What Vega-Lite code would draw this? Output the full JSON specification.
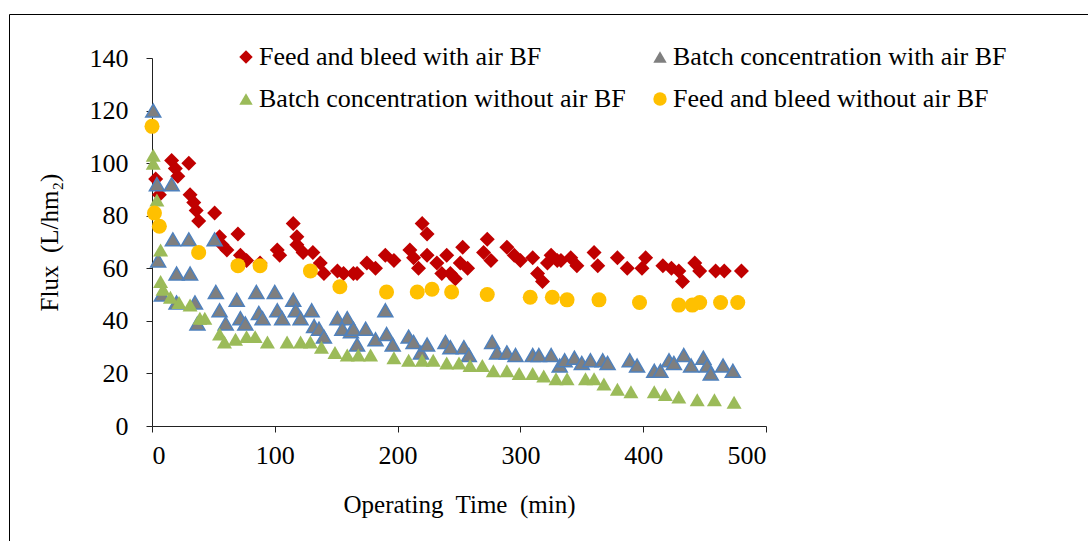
{
  "$schema": "https://vega.github.io/schema/vega-lite/v6.json",
  "autosize": {"type": "none"},
  "padding": {"left": 9, "top": 14, "right": 0, "bottom": 0},
  "width": 1090,
  "height": 540,
  "background": "#ffffff",
  "config": {
    "view": {"stroke": "#000000", "strokeWidth": 1},
    "font": "Liberation Serif",
    "axis": {
      "grid": false,
      "domainColor": "#222222",
      "tickColor": "#222222",
      "tickSize": 6,
      "labelFont": "Liberation Serif",
      "labelFontSize": 26,
      "labelColor": "#000000",
      "titleFont": "Liberation Serif",
      "titleFontSize": 25,
      "titleFontWeight": "normal",
      "titleColor": "#000000"
    }
  },
  "data": {
    "values": [
      {"t": 3, "flux": 94, "series": "Feed and bleed with air BF"},
      {"t": 6, "flux": 88, "series": "Feed and bleed with air BF"},
      {"t": 16, "flux": 101, "series": "Feed and bleed with air BF"},
      {"t": 19, "flux": 98, "series": "Feed and bleed with air BF"},
      {"t": 21, "flux": 95, "series": "Feed and bleed with air BF"},
      {"t": 30, "flux": 100, "series": "Feed and bleed with air BF"},
      {"t": 31, "flux": 88, "series": "Feed and bleed with air BF"},
      {"t": 34, "flux": 85, "series": "Feed and bleed with air BF"},
      {"t": 36, "flux": 82, "series": "Feed and bleed with air BF"},
      {"t": 38, "flux": 78, "series": "Feed and bleed with air BF"},
      {"t": 51, "flux": 81, "series": "Feed and bleed with air BF"},
      {"t": 55, "flux": 72, "series": "Feed and bleed with air BF"},
      {"t": 57, "flux": 69, "series": "Feed and bleed with air BF"},
      {"t": 61, "flux": 67, "series": "Feed and bleed with air BF"},
      {"t": 70, "flux": 73, "series": "Feed and bleed with air BF"},
      {"t": 72, "flux": 65, "series": "Feed and bleed with air BF"},
      {"t": 77, "flux": 63, "series": "Feed and bleed with air BF"},
      {"t": 88, "flux": 62, "series": "Feed and bleed with air BF"},
      {"t": 102, "flux": 67, "series": "Feed and bleed with air BF"},
      {"t": 104, "flux": 65, "series": "Feed and bleed with air BF"},
      {"t": 115, "flux": 77, "series": "Feed and bleed with air BF"},
      {"t": 118, "flux": 72, "series": "Feed and bleed with air BF"},
      {"t": 118, "flux": 69, "series": "Feed and bleed with air BF"},
      {"t": 123, "flux": 66, "series": "Feed and bleed with air BF"},
      {"t": 131, "flux": 66, "series": "Feed and bleed with air BF"},
      {"t": 137, "flux": 62, "series": "Feed and bleed with air BF"},
      {"t": 140, "flux": 58, "series": "Feed and bleed with air BF"},
      {"t": 151, "flux": 59, "series": "Feed and bleed with air BF"},
      {"t": 156, "flux": 58, "series": "Feed and bleed with air BF"},
      {"t": 164, "flux": 58, "series": "Feed and bleed with air BF"},
      {"t": 167, "flux": 58, "series": "Feed and bleed with air BF"},
      {"t": 175, "flux": 62, "series": "Feed and bleed with air BF"},
      {"t": 182, "flux": 60, "series": "Feed and bleed with air BF"},
      {"t": 190, "flux": 65, "series": "Feed and bleed with air BF"},
      {"t": 197, "flux": 63, "series": "Feed and bleed with air BF"},
      {"t": 210, "flux": 67, "series": "Feed and bleed with air BF"},
      {"t": 213, "flux": 64, "series": "Feed and bleed with air BF"},
      {"t": 217, "flux": 60, "series": "Feed and bleed with air BF"},
      {"t": 220, "flux": 77, "series": "Feed and bleed with air BF"},
      {"t": 224, "flux": 73, "series": "Feed and bleed with air BF"},
      {"t": 224, "flux": 65, "series": "Feed and bleed with air BF"},
      {"t": 232, "flux": 62, "series": "Feed and bleed with air BF"},
      {"t": 236, "flux": 58, "series": "Feed and bleed with air BF"},
      {"t": 240, "flux": 65, "series": "Feed and bleed with air BF"},
      {"t": 243, "flux": 58, "series": "Feed and bleed with air BF"},
      {"t": 247, "flux": 56, "series": "Feed and bleed with air BF"},
      {"t": 251, "flux": 62, "series": "Feed and bleed with air BF"},
      {"t": 253, "flux": 68, "series": "Feed and bleed with air BF"},
      {"t": 257, "flux": 60, "series": "Feed and bleed with air BF"},
      {"t": 270, "flux": 66, "series": "Feed and bleed with air BF"},
      {"t": 273, "flux": 71, "series": "Feed and bleed with air BF"},
      {"t": 276, "flux": 63, "series": "Feed and bleed with air BF"},
      {"t": 289, "flux": 68, "series": "Feed and bleed with air BF"},
      {"t": 295, "flux": 65, "series": "Feed and bleed with air BF"},
      {"t": 300, "flux": 63, "series": "Feed and bleed with air BF"},
      {"t": 310, "flux": 64, "series": "Feed and bleed with air BF"},
      {"t": 314, "flux": 58, "series": "Feed and bleed with air BF"},
      {"t": 318, "flux": 55, "series": "Feed and bleed with air BF"},
      {"t": 322, "flux": 62, "series": "Feed and bleed with air BF"},
      {"t": 325, "flux": 65, "series": "Feed and bleed with air BF"},
      {"t": 330, "flux": 63, "series": "Feed and bleed with air BF"},
      {"t": 333, "flux": 63, "series": "Feed and bleed with air BF"},
      {"t": 341, "flux": 64, "series": "Feed and bleed with air BF"},
      {"t": 346, "flux": 61, "series": "Feed and bleed with air BF"},
      {"t": 360, "flux": 66, "series": "Feed and bleed with air BF"},
      {"t": 363, "flux": 61, "series": "Feed and bleed with air BF"},
      {"t": 379, "flux": 64, "series": "Feed and bleed with air BF"},
      {"t": 387, "flux": 60, "series": "Feed and bleed with air BF"},
      {"t": 399, "flux": 60, "series": "Feed and bleed with air BF"},
      {"t": 402, "flux": 64, "series": "Feed and bleed with air BF"},
      {"t": 416, "flux": 61, "series": "Feed and bleed with air BF"},
      {"t": 423, "flux": 60, "series": "Feed and bleed with air BF"},
      {"t": 429, "flux": 59, "series": "Feed and bleed with air BF"},
      {"t": 432, "flux": 55, "series": "Feed and bleed with air BF"},
      {"t": 442, "flux": 62, "series": "Feed and bleed with air BF"},
      {"t": 446, "flux": 59, "series": "Feed and bleed with air BF"},
      {"t": 459, "flux": 59, "series": "Feed and bleed with air BF"},
      {"t": 466, "flux": 59, "series": "Feed and bleed with air BF"},
      {"t": 480, "flux": 59, "series": "Feed and bleed with air BF"},

      {"t": 1, "flux": 120, "series": "Batch concentration with air BF"},
      {"t": 4, "flux": 92, "series": "Batch concentration with air BF"},
      {"t": 16, "flux": 92, "series": "Batch concentration with air BF"},
      {"t": 5, "flux": 63, "series": "Batch concentration with air BF"},
      {"t": 8, "flux": 50, "series": "Batch concentration with air BF"},
      {"t": 17, "flux": 71, "series": "Batch concentration with air BF"},
      {"t": 30, "flux": 71, "series": "Batch concentration with air BF"},
      {"t": 51, "flux": 71, "series": "Batch concentration with air BF"},
      {"t": 20, "flux": 58, "series": "Batch concentration with air BF"},
      {"t": 31, "flux": 58, "series": "Batch concentration with air BF"},
      {"t": 20, "flux": 47, "series": "Batch concentration with air BF"},
      {"t": 35, "flux": 47, "series": "Batch concentration with air BF"},
      {"t": 37, "flux": 39, "series": "Batch concentration with air BF"},
      {"t": 52, "flux": 51, "series": "Batch concentration with air BF"},
      {"t": 55, "flux": 44, "series": "Batch concentration with air BF"},
      {"t": 60, "flux": 39, "series": "Batch concentration with air BF"},
      {"t": 69, "flux": 48, "series": "Batch concentration with air BF"},
      {"t": 72, "flux": 41, "series": "Batch concentration with air BF"},
      {"t": 76, "flux": 39, "series": "Batch concentration with air BF"},
      {"t": 85, "flux": 51, "series": "Batch concentration with air BF"},
      {"t": 87, "flux": 43, "series": "Batch concentration with air BF"},
      {"t": 90, "flux": 41, "series": "Batch concentration with air BF"},
      {"t": 100, "flux": 51, "series": "Batch concentration with air BF"},
      {"t": 102, "flux": 44, "series": "Batch concentration with air BF"},
      {"t": 106, "flux": 41, "series": "Batch concentration with air BF"},
      {"t": 115, "flux": 48, "series": "Batch concentration with air BF"},
      {"t": 117, "flux": 44, "series": "Batch concentration with air BF"},
      {"t": 121, "flux": 41, "series": "Batch concentration with air BF"},
      {"t": 130, "flux": 44, "series": "Batch concentration with air BF"},
      {"t": 132, "flux": 38, "series": "Batch concentration with air BF"},
      {"t": 136, "flux": 37, "series": "Batch concentration with air BF"},
      {"t": 140, "flux": 34, "series": "Batch concentration with air BF"},
      {"t": 151, "flux": 41, "series": "Batch concentration with air BF"},
      {"t": 159, "flux": 41, "series": "Batch concentration with air BF"},
      {"t": 155, "flux": 37, "series": "Batch concentration with air BF"},
      {"t": 162, "flux": 36, "series": "Batch concentration with air BF"},
      {"t": 164, "flux": 37, "series": "Batch concentration with air BF"},
      {"t": 167, "flux": 31, "series": "Batch concentration with air BF"},
      {"t": 174, "flux": 37, "series": "Batch concentration with air BF"},
      {"t": 182, "flux": 33, "series": "Batch concentration with air BF"},
      {"t": 190, "flux": 44, "series": "Batch concentration with air BF"},
      {"t": 191, "flux": 35, "series": "Batch concentration with air BF"},
      {"t": 196, "flux": 31, "series": "Batch concentration with air BF"},
      {"t": 209, "flux": 34, "series": "Batch concentration with air BF"},
      {"t": 213, "flux": 32, "series": "Batch concentration with air BF"},
      {"t": 219, "flux": 28, "series": "Batch concentration with air BF"},
      {"t": 224, "flux": 31, "series": "Batch concentration with air BF"},
      {"t": 239, "flux": 32, "series": "Batch concentration with air BF"},
      {"t": 243, "flux": 30, "series": "Batch concentration with air BF"},
      {"t": 254, "flux": 30, "series": "Batch concentration with air BF"},
      {"t": 258, "flux": 27, "series": "Batch concentration with air BF"},
      {"t": 277, "flux": 32, "series": "Batch concentration with air BF"},
      {"t": 281, "flux": 28, "series": "Batch concentration with air BF"},
      {"t": 289, "flux": 28, "series": "Batch concentration with air BF"},
      {"t": 296, "flux": 27, "series": "Batch concentration with air BF"},
      {"t": 310, "flux": 27, "series": "Batch concentration with air BF"},
      {"t": 315, "flux": 27, "series": "Batch concentration with air BF"},
      {"t": 325, "flux": 27, "series": "Batch concentration with air BF"},
      {"t": 332, "flux": 23, "series": "Batch concentration with air BF"},
      {"t": 336, "flux": 25, "series": "Batch concentration with air BF"},
      {"t": 344, "flux": 26, "series": "Batch concentration with air BF"},
      {"t": 350, "flux": 24, "series": "Batch concentration with air BF"},
      {"t": 357, "flux": 25, "series": "Batch concentration with air BF"},
      {"t": 367, "flux": 25, "series": "Batch concentration with air BF"},
      {"t": 371, "flux": 24, "series": "Batch concentration with air BF"},
      {"t": 389, "flux": 25, "series": "Batch concentration with air BF"},
      {"t": 395, "flux": 23, "series": "Batch concentration with air BF"},
      {"t": 409, "flux": 21, "series": "Batch concentration with air BF"},
      {"t": 414, "flux": 21, "series": "Batch concentration with air BF"},
      {"t": 421, "flux": 25, "series": "Batch concentration with air BF"},
      {"t": 425, "flux": 24, "series": "Batch concentration with air BF"},
      {"t": 433, "flux": 27, "series": "Batch concentration with air BF"},
      {"t": 439, "flux": 23, "series": "Batch concentration with air BF"},
      {"t": 449, "flux": 26, "series": "Batch concentration with air BF"},
      {"t": 452, "flux": 23, "series": "Batch concentration with air BF"},
      {"t": 455, "flux": 20, "series": "Batch concentration with air BF"},
      {"t": 465, "flux": 23, "series": "Batch concentration with air BF"},
      {"t": 473, "flux": 21, "series": "Batch concentration with air BF"},

      {"t": 1, "flux": 103, "series": "Batch concentration without air BF"},
      {"t": 1, "flux": 100, "series": "Batch concentration without air BF"},
      {"t": 4, "flux": 86, "series": "Batch concentration without air BF"},
      {"t": 7, "flux": 67, "series": "Batch concentration without air BF"},
      {"t": 7, "flux": 55, "series": "Batch concentration without air BF"},
      {"t": 9, "flux": 52, "series": "Batch concentration without air BF"},
      {"t": 15, "flux": 49, "series": "Batch concentration without air BF"},
      {"t": 22, "flux": 47, "series": "Batch concentration without air BF"},
      {"t": 31, "flux": 46, "series": "Batch concentration without air BF"},
      {"t": 39, "flux": 41, "series": "Batch concentration without air BF"},
      {"t": 43, "flux": 41, "series": "Batch concentration without air BF"},
      {"t": 55, "flux": 35, "series": "Batch concentration without air BF"},
      {"t": 59, "flux": 32, "series": "Batch concentration without air BF"},
      {"t": 68, "flux": 33, "series": "Batch concentration without air BF"},
      {"t": 77, "flux": 34, "series": "Batch concentration without air BF"},
      {"t": 84, "flux": 34, "series": "Batch concentration without air BF"},
      {"t": 94, "flux": 32, "series": "Batch concentration without air BF"},
      {"t": 110, "flux": 32, "series": "Batch concentration without air BF"},
      {"t": 121, "flux": 32, "series": "Batch concentration without air BF"},
      {"t": 129, "flux": 32, "series": "Batch concentration without air BF"},
      {"t": 138, "flux": 30, "series": "Batch concentration without air BF"},
      {"t": 149, "flux": 28, "series": "Batch concentration without air BF"},
      {"t": 159, "flux": 27, "series": "Batch concentration without air BF"},
      {"t": 168, "flux": 27, "series": "Batch concentration without air BF"},
      {"t": 178, "flux": 27, "series": "Batch concentration without air BF"},
      {"t": 197, "flux": 26, "series": "Batch concentration without air BF"},
      {"t": 209, "flux": 25, "series": "Batch concentration without air BF"},
      {"t": 220, "flux": 25, "series": "Batch concentration without air BF"},
      {"t": 229, "flux": 25, "series": "Batch concentration without air BF"},
      {"t": 240, "flux": 24, "series": "Batch concentration without air BF"},
      {"t": 250, "flux": 24, "series": "Batch concentration without air BF"},
      {"t": 259, "flux": 23, "series": "Batch concentration without air BF"},
      {"t": 269, "flux": 23, "series": "Batch concentration without air BF"},
      {"t": 278, "flux": 21, "series": "Batch concentration without air BF"},
      {"t": 289, "flux": 21, "series": "Batch concentration without air BF"},
      {"t": 299, "flux": 20, "series": "Batch concentration without air BF"},
      {"t": 310, "flux": 20, "series": "Batch concentration without air BF"},
      {"t": 319, "flux": 19, "series": "Batch concentration without air BF"},
      {"t": 329, "flux": 18, "series": "Batch concentration without air BF"},
      {"t": 338, "flux": 18, "series": "Batch concentration without air BF"},
      {"t": 353, "flux": 18, "series": "Batch concentration without air BF"},
      {"t": 360, "flux": 18, "series": "Batch concentration without air BF"},
      {"t": 368, "flux": 16, "series": "Batch concentration without air BF"},
      {"t": 379, "flux": 14, "series": "Batch concentration without air BF"},
      {"t": 390, "flux": 13, "series": "Batch concentration without air BF"},
      {"t": 409, "flux": 13, "series": "Batch concentration without air BF"},
      {"t": 418, "flux": 12, "series": "Batch concentration without air BF"},
      {"t": 429, "flux": 11, "series": "Batch concentration without air BF"},
      {"t": 444, "flux": 10, "series": "Batch concentration without air BF"},
      {"t": 458, "flux": 10, "series": "Batch concentration without air BF"},
      {"t": 474, "flux": 9, "series": "Batch concentration without air BF"},

      {"t": 0, "flux": 114, "series": "Feed and bleed without air BF"},
      {"t": 2, "flux": 81, "series": "Feed and bleed without air BF"},
      {"t": 6, "flux": 76, "series": "Feed and bleed without air BF"},
      {"t": 38, "flux": 66, "series": "Feed and bleed without air BF"},
      {"t": 70, "flux": 61, "series": "Feed and bleed without air BF"},
      {"t": 88, "flux": 61, "series": "Feed and bleed without air BF"},
      {"t": 129, "flux": 59, "series": "Feed and bleed without air BF"},
      {"t": 153, "flux": 53, "series": "Feed and bleed without air BF"},
      {"t": 191, "flux": 51, "series": "Feed and bleed without air BF"},
      {"t": 216, "flux": 51, "series": "Feed and bleed without air BF"},
      {"t": 228, "flux": 52, "series": "Feed and bleed without air BF"},
      {"t": 244, "flux": 51, "series": "Feed and bleed without air BF"},
      {"t": 273, "flux": 50, "series": "Feed and bleed without air BF"},
      {"t": 308, "flux": 49, "series": "Feed and bleed without air BF"},
      {"t": 326, "flux": 49, "series": "Feed and bleed without air BF"},
      {"t": 338, "flux": 48, "series": "Feed and bleed without air BF"},
      {"t": 364, "flux": 48, "series": "Feed and bleed without air BF"},
      {"t": 397, "flux": 47, "series": "Feed and bleed without air BF"},
      {"t": 429, "flux": 46, "series": "Feed and bleed without air BF"},
      {"t": 440, "flux": 46, "series": "Feed and bleed without air BF"},
      {"t": 446, "flux": 47, "series": "Feed and bleed without air BF"},
      {"t": 463, "flux": 47, "series": "Feed and bleed without air BF"},
      {"t": 477, "flux": 47, "series": "Feed and bleed without air BF"}
    ]
  },
  "mark": {"type": "point", "filled": true, "opacity": 1, "strokeWidth": 1.5, "size": 225},
  "encoding": {
    "x": {
      "field": "t",
      "type": "quantitative",
      "scale": {"domain": [0, 500], "range": [143, 757], "nice": false, "zero": false},
      "axis": {
        "orient": "bottom",
        "offset": -128,
        "values": [0, 100, 200, 300, 400, 500],
        "labelPadding": 10,
        "title": "Operating\u00a0 Time\u00a0 (min)",
        "titlePadding": 24
      }
    },
    "y": {
      "field": "flux",
      "type": "quantitative",
      "scale": {"domain": [0, 140], "range": [412, 44], "nice": false, "zero": false},
      "axis": {
        "orient": "left",
        "offset": -143,
        "values": [0, 20, 40, 60, 80, 100, 120, 140],
        "labelPadding": 18,
        "title": "Flux\u00a0 (L/hm\u2082)",
        "titlePadding": 27
      }
    },
    "color": {
      "field": "series",
      "type": "nominal",
      "scale": {
        "domain": ["Feed and bleed with air BF", "Batch concentration with air BF", "Batch concentration without air BF", "Feed and bleed without air BF"],
        "range": ["#C00000", "#7F7F7F", "#9BBB59", "#FFC000"]
      },
      "legend": {
        "orient": "none",
        "legendX": 224,
        "legendY": 30,
        "direction": "horizontal",
        "columns": 2,
        "columnPadding": 21,
        "rowPadding": 16,
        "title": null,
        "labelFont": "Liberation Serif",
        "labelFontSize": 26,
        "labelColor": "#000000",
        "labelLimit": 0,
        "labelOffset": 0,
        "symbolSize": 180,
        "symbolStrokeWidth": 0,
        "padding": 0
      }
    },
    "shape": {
      "field": "series",
      "type": "nominal",
      "scale": {
        "domain": ["Feed and bleed with air BF", "Batch concentration with air BF", "Batch concentration without air BF", "Feed and bleed without air BF"],
        "range": ["diamond", "triangle-up", "triangle-up", "circle"]
      },
      "legend": {
        "orient": "none",
        "legendX": 224,
        "legendY": 30,
        "direction": "horizontal",
        "columns": 2,
        "columnPadding": 21,
        "rowPadding": 16,
        "title": null,
        "labelFont": "Liberation Serif",
        "labelFontSize": 26,
        "labelColor": "#000000",
        "labelLimit": 0,
        "labelOffset": 0,
        "symbolSize": 180,
        "symbolStrokeWidth": 0,
        "padding": 0
      }
    },
    "stroke": {
      "condition": {"test": "datum.series === 'Batch concentration with air BF'", "value": "#4F81BD"},
      "value": null
    }
  }
}
